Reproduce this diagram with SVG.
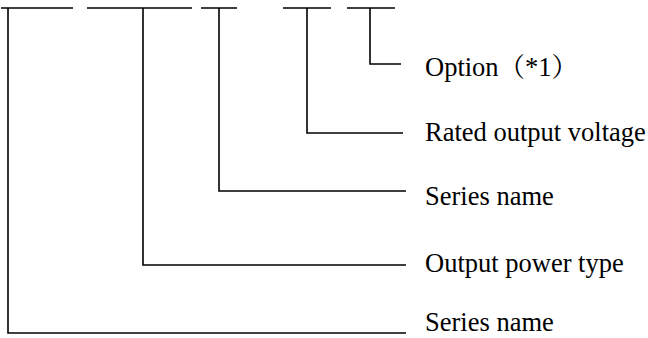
<svg xmlns="http://www.w3.org/2000/svg" width="648" height="338" viewBox="0 0 648 338">
<style>
.ln{fill:none;stroke:#000;stroke-width:1.6;stroke-linecap:butt;stroke-linejoin:miter}
.lb{font-family:"Liberation Serif","Noto Serif CJK JP","Noto Sans CJK JP",serif;font-size:26.5px;fill:#000}
</style>
<rect width="648" height="338" fill="#fff"/>
<g id="slot1"><line class="ln" x1="1" y1="8" x2="73" y2="8"/></g>
<g id="slot2"><line class="ln" x1="87" y1="8" x2="192" y2="8"/></g>
<g id="slot3"><line class="ln" x1="201" y1="8" x2="237" y2="8"/></g>
<g id="slot4"><line class="ln" x1="283" y1="8" x2="331" y2="8"/></g>
<g id="slot5"><line class="ln" x1="347" y1="8" x2="395" y2="8"/></g>
<g id="connectors">
<polyline class="ln" points="370,8 370,64 401,64"/>
<polyline class="ln" points="307,8 307,133 403,133"/>
<polyline class="ln" points="219,8 219,191 406,191"/>
<polyline class="ln" points="143,8 143,265 406,265"/>
<polyline class="ln" points="8,8 8,333 406,333"/>
</g>
<g id="label-option"><text class="lb" x="425" y="76">Option（*1）</text></g>
<g id="label-voltage"><text class="lb" x="425" y="141">Rated output voltage</text></g>
<g id="label-series2"><text class="lb" x="425" y="205">Series name</text></g>
<g id="label-power"><text class="lb" x="425" y="272">Output power type</text></g>
<g id="label-series1"><text class="lb" x="425" y="331">Series name</text></g>
</svg>
